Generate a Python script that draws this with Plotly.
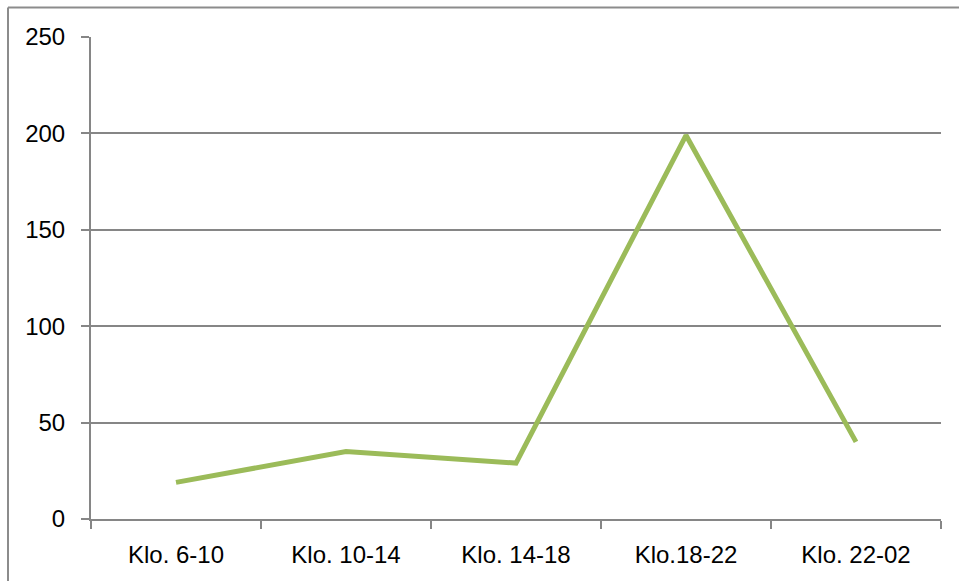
import plotly.graph_objects as go

# Time slots and counts
periods = ["Klo. 6-10", "Klo. 10-14", "Klo. 14-18", "Klo.18-22", "Klo. 22-02"]
counts = [19, 35, 29, 199, 40]
y_ticks = [0, 50, 100, 150, 200, 250]

W, H = 959, 581
ML, MR, MT, MB = 91, 18, 37, 62
GRAY = "#868686"
FONT = dict(family="Liberation Sans, Arial, sans-serif", size=24, color="#000000")

fig = go.Figure()
fig.add_trace(go.Scatter(
    x=periods, y=counts, mode="lines",
    line=dict(color="#9BBB59", width=5),
    hoverinfo="x+y",
))

# outer frame (left and top edges only fall inside the canvas)
pw, ph = W - ML - MR, H - MT - MB
fx0 = (8 - ML) / pw
fy1 = 1 + (MT - 7.5) / ph
fig.add_shape(type="line", xref="paper", yref="paper",
              x0=fx0, x1=fx0, y0=fy1, y1=-0.3,
              line=dict(color="#8c8c8c", width=2))
fig.add_shape(type="line", xref="paper", yref="paper",
              x0=fx0, x1=1.2, y0=fy1, y1=fy1,
              line=dict(color="#8c8c8c", width=2))

fig.update_layout(
    width=W, height=H,
    margin=dict(l=ML, r=MR, t=MT, b=MB),
    paper_bgcolor="white", plot_bgcolor="white",
    showlegend=False,
    font=FONT,
    xaxis=dict(
        type="category", range=[-0.5, len(periods) - 0.5], automargin=False,
        showline=True, linecolor=GRAY, linewidth=2,
        ticks="outside", tickson="boundaries", ticklen=8, tickwidth=2, tickcolor=GRAY,
        showgrid=False, ticklabelstandoff=13,
        tickfont=FONT,
    ),
    yaxis=dict(
        range=[0, 250], tickvals=y_ticks, automargin=False,
        showline=True, linecolor=GRAY, linewidth=2,
        ticks="outside", ticklen=8, tickwidth=2, tickcolor=GRAY,
        showgrid=True, gridcolor=GRAY, gridwidth=2,
        zeroline=False, ticklabelstandoff=11,
        tickfont=FONT,
    ),
)

fig.write_html("out.html")
